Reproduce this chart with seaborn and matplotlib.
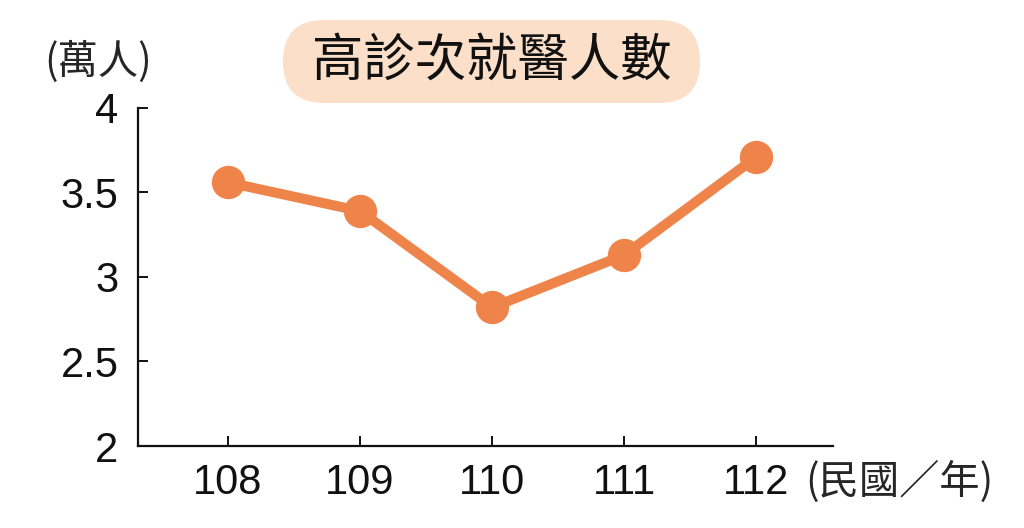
import matplotlib
matplotlib.use("Agg")
from matplotlib import pyplot as plt
from matplotlib.patches import FancyBboxPatch
from matplotlib.transforms import IdentityTransform
import seaborn as sns
import pandas as pd

# data
years = [108, 109, 110, 111, 112]
patients = [3.56, 3.39, 2.82, 3.13, 3.71]   # 萬人
y_ticks = [2, 2.5, 3, 3.5, 4]

line_color = "#EF844A"
box_color = "#FBDFC9"

sns.set_style("ticks")
plt.rcParams['font.family'] = ['Liberation Sans', 'Noto Sans CJK TC', 'DejaVu Sans']
cjk = ['Noto Sans CJK TC', 'DejaVu Sans']

df = pd.DataFrame({"year": years, "value": patients})

W, H = 1024, 528
fig = plt.figure(figsize=(W / 100, H / 100), dpi=100)
ax = fig.add_axes([0.1348, 0.1553, 0.6787, 0.6402])

sns.lineplot(data=df, x="year", y="value", ax=ax, color=line_color,
             linewidth=7.2, marker="o", markersize=24, markeredgewidth=0)

ax.set_xlim(107.32, 112.58)
ax.set_ylim(2, 4)
ax.set_xticks(years)
ax.set_xticklabels([str(y) for y in years])
ax.set_yticks(y_ticks)
ax.set_yticklabels([f"{t:g}" for t in y_ticks])
ax.set_xlabel("")
ax.set_ylabel("")

for side in ["top", "right"]:
    ax.spines[side].set_visible(False)
for side in ["left", "bottom"]:
    ax.spines[side].set_linewidth(1.6)
    ax.spines[side].set_color("#111111")

ax.tick_params(axis="both", direction="in", length=7, width=1.4,
               labelsize=30, colors="#111111")
ax.tick_params(axis="y", pad=14)
ax.tick_params(axis="x", pad=12)

# unit labels
fig.text(0.043, 0.882, "(萬人)", fontsize=29, family=cjk, va="center", ha="left")
fig.text(0.786, 0.088, "(民國／年)", fontsize=29, family=cjk, va="center", ha="left")

# title pill (pixel coords, figure saved at same dpi)
pill = FancyBboxPatch((283, H - 103), 417, 83,
                      boxstyle="round,pad=0,rounding_size=41",
                      fc=box_color, ec="none", transform=IdentityTransform())
fig.patches.append(pill)
fig.text(491.5 / W, 1 - 61 / H, "高診次就醫人數", fontsize=37, family=cjk,
         ha="center", va="center", color="#111111")

fig.savefig("out.png", dpi=100)
